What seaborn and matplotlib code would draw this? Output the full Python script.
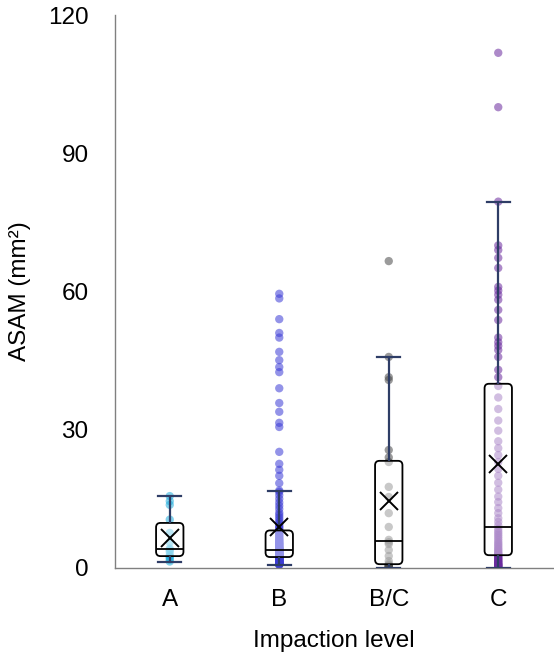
import numpy as np
import pandas as pd
import matplotlib
matplotlib.use("Agg")
import matplotlib.pyplot as plt
from matplotlib.patches import FancyBboxPatch
import seaborn as sns

# ASAM (mm2) per impaction level
levels = ["A", "B", "B/C", "C"]

asam_a = [1.4, 1.8, 2.2, 2.5, 2.8, 3.5, 3.9, 4.2, 5.6, 7.6, 10.5, 13.7, 14.5, 15.6]

asam_b = [59.5, 58.5, 54.0, 51.0, 50.0, 46.9, 45.1, 43.6, 42.5, 39.0, 35.8, 33.9,
          31.5, 30.6, 25.2, 22.6, 21.3, 20.0, 18.4,
          16.8, 16.5, 15.8, 15.0, 14.2, 13.5, 12.8, 12.0, 11.5, 11.0, 10.5, 10.0,
          9.6, 9.2, 8.9, 8.6, 8.3,
          8.1, 7.9, 7.7, 7.5, 7.3, 7.1, 6.9, 6.7, 6.5, 6.3, 6.2, 6.0, 5.9, 5.8,
          5.6, 5.5, 5.4, 5.3, 5.2, 5.1, 5.0, 4.9, 4.8, 4.7, 4.6, 4.5, 4.4, 4.4,
          4.3, 4.2, 4.2, 4.1, 4.1, 4.0, 4.0, 3.9,
          3.9, 3.8, 3.8, 3.7, 3.7, 3.6, 3.6, 3.5, 3.5, 3.4, 3.4, 3.3, 3.3, 3.2,
          3.2, 3.1, 3.1, 3.0, 3.0, 2.9, 2.9, 2.9, 2.8, 2.8, 2.8, 2.7, 2.7, 2.7,
          2.6, 2.6, 2.6, 2.5, 2.5, 2.5, 2.4, 2.4,
          2.3, 2.3, 2.2, 2.2, 2.1, 2.1, 2.0, 2.0, 1.9, 1.9, 1.8, 1.8, 1.7, 1.7,
          1.6, 1.6, 1.5, 1.5, 1.4, 1.4, 1.3, 1.3, 1.2, 1.2, 1.1, 1.1, 1.0, 1.0,
          1.0, 0.9, 0.9, 0.9, 0.8, 0.8, 0.7, 0.7]

asam_bc = [0.1, 0.2, 0.3, 0.4, 0.5, 0.6, 0.9, 1.5, 2.6, 3.9, 5.2, 5.6, 6.1,
           8.9, 11.9, 15.4, 17.6, 23.0, 24.0, 25.6, 40.8, 41.4, 45.8, 66.6]

asam_c = [111.8, 100.0, 79.5, 70.0, 69.0, 67.3, 65.1, 61.0, 60.2, 59.3, 58.2,
          56.0, 53.8, 50.0, 49.0, 48.2, 47.3, 45.8, 43.0, 41.4,
          39.5, 37.0, 34.5, 32.0, 29.8, 27.5, 26.0, 24.5, 23.0, 21.5, 20.0,
          18.5, 17.0, 15.5, 14.3, 13.0, 11.9, 10.8, 10.0, 9.2,
          8.5, 8.0, 7.6, 7.2, 6.8, 6.4, 6.0, 5.6, 5.3, 5.0, 4.7, 4.4, 4.1, 3.9,
          3.6, 3.4, 3.2, 3.0, 2.9, 2.8,
          2.7, 2.5, 2.3, 2.1, 2.0, 1.8, 1.6, 1.5, 1.3, 1.2, 1.0, 0.9, 0.8, 0.7,
          0.6, 0.5, 0.4, 0.3, 0.2, 0.1]

point_colors = {"A": "#22AEDD", "B": "#3B3BD6", "B/C": "#4A4A4A", "C": "#6A2A9E"}
whisker_color = "#2E3D66"

df = pd.DataFrame({
    "level": ["A"] * len(asam_a) + ["B"] * len(asam_b)
             + ["B/C"] * len(asam_bc) + ["C"] * len(asam_c),
    "asam": asam_a + asam_b + asam_bc + asam_c,
})

plt.rcParams["font.family"] = ["Liberation Sans", "DejaVu Sans"]

fig = plt.figure(figsize=(5.54, 6.65), dpi=100)
ax = fig.add_axes([0.2076, 0.1459, 0.7906, 0.8315])

# points first, boxes drawn over them with a translucent white fill
sns.stripplot(data=df, x="level", y="asam", order=levels, hue="level",
              palette=point_colors, jitter=False, size=6, alpha=0.55,
              linewidth=0, legend=False, ax=ax, zorder=1)

sns.boxplot(data=df, x="level", y="asam", order=levels, width=0.25,
            showfliers=False, showmeans=True, whis=1.5, ax=ax,
            boxprops=dict(facecolor="white", edgecolor="black", linewidth=1.3),
            medianprops=dict(color="black", linewidth=1.3),
            whiskerprops=dict(color=whisker_color, linewidth=1.6),
            capprops=dict(color=whisker_color, linewidth=1.6),
            meanprops=dict(marker="x", markeredgecolor="black",
                           markersize=13, markeredgewidth=1.4))

# Excel-like rounded boxes
aspect = (109.5 / 4.608)
for patch in list(ax.patches):
    verts = patch.get_path().vertices
    x0, y0 = verts.min(axis=0)
    x1, y1 = verts.max(axis=0)
    patch.remove()
    ax.add_patch(FancyBboxPatch((x0, y0), x1 - x0, y1 - y0,
                                boxstyle="round,pad=0,rounding_size=0.04",
                                mutation_aspect=aspect,
                                facecolor=(1, 1, 1, 0.45), edgecolor="black",
                                linewidth=1.3, zorder=2))

# widen caps a bit
for line in ax.lines:
    xd = np.asarray(line.get_xdata(), dtype=float)
    yd = np.asarray(line.get_ydata(), dtype=float)
    if len(xd) == 2 and yd[0] == yd[1] and matplotlib.colors.same_color(line.get_color(), whisker_color):
        mid = xd.mean()
        line.set_xdata([mid - 0.105, mid + 0.105])
    line.set_zorder(3)

ax.set_xlim(-0.5, 3.5)
ax.set_ylim(0, 120)
ax.set_yticks([0, 30, 60, 90, 120])
ax.tick_params(axis="both", length=0, labelsize=17.5, colors="black")
ax.tick_params(axis="y", pad=19)
ax.tick_params(axis="x", pad=15)
ax.set_xlabel("Impaction level", fontsize=17.5, labelpad=14)
ax.set_ylabel("ASAM (mm²)", fontsize=17.5, labelpad=12)

for side in ["top", "right"]:
    ax.spines[side].set_visible(False)
for side in ["left", "bottom"]:
    ax.spines[side].set_color("#808080")
    ax.spines[side].set_linewidth(1.0)

fig.savefig("out.png", dpi=100, facecolor="white")
